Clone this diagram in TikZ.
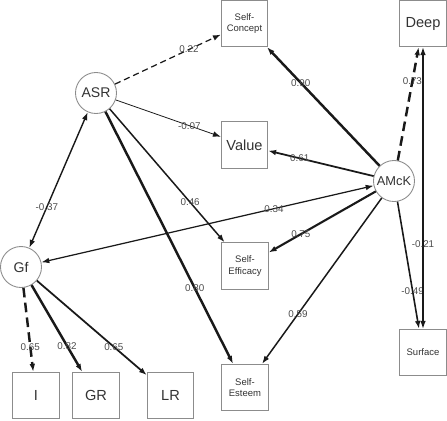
\documentclass[tikz,border=0pt]{standalone}
\usepackage{fontspec}
\setmainfont{Liberation Sans}
\usetikzlibrary{arrows.meta}

\begin{document}
\begin{tikzpicture}[x=0.02cm,y=-0.02cm,
    >={Latex[length=4.5pt,width=3.2pt]},
    latent/.style={circle,draw=black!45,fill=white,line width=0.5pt,minimum size=0.82cm,inner sep=0pt,text=black!80,font=\fontsize{8}{9}\selectfont},
    manifest/.style={rectangle,draw=black!45,fill=white,line width=0.5pt,minimum size=0.93cm,inner sep=0pt,text=black!80,align=center},
    big/.style={font=\fontsize{8.3}{9}\selectfont},
    small/.style={font=\fontsize{5.4}{6.4}\selectfont},
    coef/.style={pos=0.7,inner sep=0pt,text=black!70,font=\fontsize{5.6}{6}\selectfont},
    pathw/.style={draw=black!90,line width=#1}]

  \useasboundingbox (0,0) rectangle (447,420);

  \node[latent] (asr) at (96,93) {ASR};
  \node[latent,font=\fontsize{7.3}{8}\selectfont] (amck) at (394,181) {AMcK};
  \node[latent] (gf) at (21,267) {Gf};

  \node[manifest,small] (concept) at (244.5,23.5) {Self-\\Concept};
  \node[manifest,big] (value) at (244.5,145) {Value};
  \node[manifest,small] (efficacy) at (245,266) {Self-\\Efficacy};
  \node[manifest,small] (esteem) at (245,387.5) {Self-\\Esteem};
  \node[manifest,big] (deep) at (423,23.5) {Deep};
  \node[manifest,small] (surface) at (423,352.5) {Surface};
  \node[manifest,big] (i) at (36,395.5) {I};
  \node[manifest,big] (gr) at (96,395.5) {GR};
  \node[manifest,big] (lr) at (170.5,395.5) {LR};

  \draw[->,pathw=0.7pt,dash pattern=on 3.5pt off 2.2pt] (asr) -- node[coef]{0.22} (concept);
  \draw[->,pathw=0.45pt] (asr) -- node[coef]{-0.07} (value);
  \draw[->,pathw=0.85pt] (asr) -- node[coef]{0.46} (efficacy);
  \draw[->,pathw=1.4pt] (asr) -- node[coef]{0.80} (esteem);
  \draw[<->,pathw=0.8pt] (asr) -- node[coef]{-0.37} (gf);

  \draw[<->,pathw=0.7pt] (gf) -- node[coef]{0.34} (amck);
  \draw[->,pathw=1.4pt] (amck) -- node[coef]{0.90} (concept);
  \draw[->,pathw=1pt] (amck) -- node[coef]{0.61} (value);
  \draw[->,pathw=1.2pt] (amck) -- node[coef]{0.75} (efficacy);
  \draw[->,pathw=0.85pt] (amck) -- node[coef]{0.59} (esteem);
  \draw[->,pathw=1.4pt,dash pattern=on 5.5pt off 3pt] (amck) -- node[coef]{0.73} (deep);
  \draw[->,pathw=0.9pt] (amck) -- node[coef]{-0.49} (surface);
  \draw[<->,pathw=0.75pt] (deep) -- node[coef]{-0.21} (surface);

  \draw[->,pathw=1.4pt,dash pattern=on 5.5pt off 3pt] (gf) -- node[coef]{0.65} (i);
  \draw[->,pathw=1.4pt] (gf) -- node[coef]{0.82} (gr);
  \draw[->,pathw=1pt] (gf) -- node[coef]{0.65} (lr);

\end{tikzpicture}
\end{document}
